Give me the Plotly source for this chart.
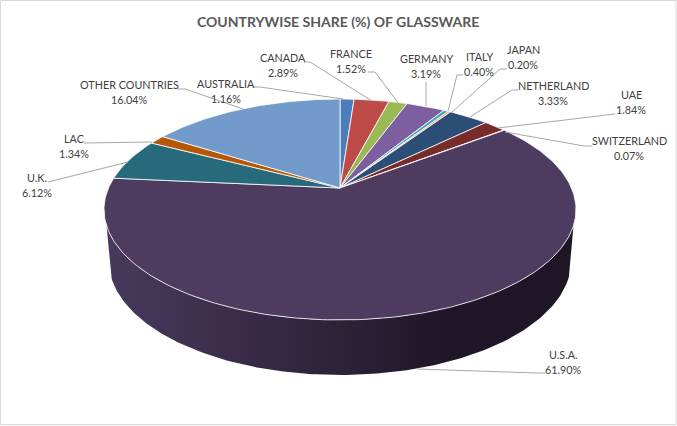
import numpy as np
import plotly.graph_objects as go

# ---- data -------------------------------------------------------------
countries = ["AUSTRALIA", "CANADA", "FRANCE", "GERMANY", "ITALY", "JAPAN", "NETHERLAND",
             "UAE", "SWITZERLAND", "U.S.A.", "U.K.", "LAC", "OTHER COUNTRIES"]
shares = [1.16, 2.89, 1.52, 3.19, 0.40, 0.20, 3.33, 1.84, 0.07, 61.90, 6.12, 1.34, 16.04]
colors = ["#4A7EBB", "#BE4B48", "#98B954", "#7D5FA0", "#46AAC5", "#F79646", "#2C4D75",
          "#772C2A", "#5F7530", "#4E3B60", "#276A7C", "#B65708", "#729ACA"]
title_text = "COUNTRYWISE SHARE (%) OF GLASSWARE"

# ---- label layout (pixel space of the 677x426 chart) -------------------
label_pos = [(226, 91.5), (283, 65.5), (351, 61.5), (426, 66.5), (479, 64.5), (523, 57.5), (553, 93.5),
             (631, 102.5), (629, 148.5), (563, 362.5), (37, 185.5), (74, 146.5), (129, 92.5)]
leaders = [
    [(254, 87), (260, 87), (343, 99)],
    [(304, 62), (310, 62), (372, 101)],
    [(368, 72), (375, 72), (399, 104)],
    [(426, 82), (426, 106)],
    [(463, 75), (457, 75), (448, 111)],
    [(507, 69), (500, 69), (451, 113)],
    [(518, 90), (512, 90), (470, 117)],
    [(615, 114), (498, 128)],
    [(592, 146), (584, 146), (505, 132)],
    [(545, 373), (537, 373), (417, 369)],
    [(48, 182), (128, 162)],
    [(84, 143), (152, 142)],
    [(177, 89), (185, 89), (243, 109)],
]

# ---- perspective projection of the round pie --------------------------
CX, CY = 340.0, 188.0
R, S, K = 231.5, 106.3, 0.1946


def project(theta):
    u, v = np.sin(theta), np.cos(theta)
    d = 1 + K * v
    return CX + R * u / d, CY - S * v / d


def arc(a0, a1):
    n = max(2, int(abs(a1 - a0) / np.radians(1)) + 2)
    return np.linspace(a0, a1, n)


fig = go.Figure()

# side wall of the pie: lower visible rim and the lower rim shifted down
front = np.linspace(np.radians(109.3), np.radians(250.7), 160)
tx, ty = project(front)
bx = CX + (tx - CX) * 0.98
by = ty + 50 - 5 * np.cos(front)
fig.add_trace(go.Scatter(
    x=np.concatenate([tx, bx[::-1]]), y=np.concatenate([ty, by[::-1]]),
    mode="lines", fill="toself", line=dict(width=0), hoverinfo="skip", showlegend=False,
    fillgradient=dict(type="horizontal", start=104, stop=576,
                      colorscale=[[0, "#483A5C"], [0.3, "#392B48"], [0.5, "#2E2239"],
                                  [0.72, "#1F1628"], [1, "#1E1527"]]),
))

# top face slices
edges = np.radians(np.concatenate([[0], np.cumsum(shares)]) / sum(shares) * 360)
for i, name in enumerate(countries):
    x, y = project(arc(edges[i], edges[i + 1]))
    fig.add_trace(go.Scatter(
        x=np.concatenate([[CX], x, [CX]]), y=np.concatenate([[CY], y, [CY]]),
        mode="lines", fill="toself", fillcolor=colors[i], name=name,
        line=dict(color="white", width=0.8), hoverinfo="skip", showlegend=False,
    ))

# leader lines
for pts in leaders:
    fig.add_trace(go.Scatter(
        x=[p[0] for p in pts], y=[p[1] for p in pts], mode="lines",
        line=dict(color="#A6A6A6", width=1), hoverinfo="skip", showlegend=False,
    ))

label_font = dict(family="Lato", size=10.8, color="#404040")
annotations = []
for name, val, (px, py) in zip(countries, shares, label_pos):
    annotations.append(dict(x=px, y=py - 8, xref="x", yref="y", showarrow=False, text=name, font=label_font))
    annotations.append(dict(x=px, y=py + 7, xref="x", yref="y", showarrow=False, text=f"{val:.2f}%", font=label_font))
annotations.append(dict(x=337.5, y=21, xref="x", yref="y", showarrow=False, text=f"<b>{title_text}</b>",
                        font=dict(family="Lato", size=14, color="#595959")))

fig.update_layout(
    width=677, height=426, margin=dict(l=0, r=0, t=0, b=0),
    paper_bgcolor="white", plot_bgcolor="white", annotations=annotations,
    xaxis=dict(range=[0, 677], visible=False, fixedrange=True),
    yaxis=dict(range=[426, 0], visible=False, fixedrange=True),
    shapes=[dict(type="rect", xref="x", yref="y", x0=0.5, x1=676, y0=0.5, y1=424.5,
                 line=dict(color="#D9D9D9", width=1), layer="below")],
)
fig.write_html("out.html", post_script="document.body.style.margin='0';", config={"displayModeBar": False})
